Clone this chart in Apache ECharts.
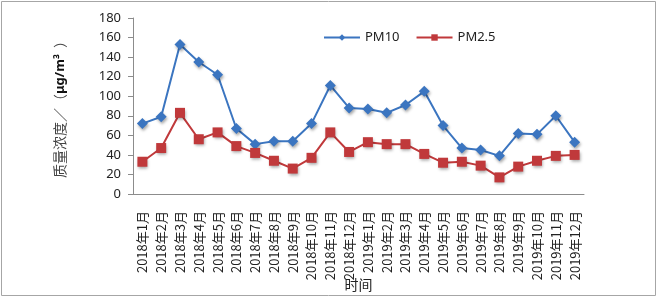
<!DOCTYPE html>
<html>
<head>
<meta charset="utf-8">
<script src="https://cdn.jsdelivr.net/npm/echarts@6/dist/echarts.min.js"></script>
<style>
  html, body { margin: 0; padding: 0; background: #fff; }
  #chart { width: 661px; height: 298px; }
</style>
</head>
<body>
<div id="chart"></div>
<script>
// months 2018-01 .. 2019-12
var months = [
  '2018年1月', '2018年2月', '2018年3月', '2018年4月', '2018年5月', '2018年6月',
  '2018年7月', '2018年8月', '2018年9月', '2018年10月', '2018年11月', '2018年12月',
  '2019年1月', '2019年2月', '2019年3月', '2019年4月', '2019年5月', '2019年6月',
  '2019年7月', '2019年8月', '2019年9月', '2019年10月', '2019年11月', '2019年12月'
]
var pm10 = [72, 79, 153, 135, 122, 67, 51, 54, 54, 72, 111, 88, 87, 83, 91, 105, 70, 47, 45, 39, 62, 61, 80, 53]
var pm25 = [33, 47, 83, 56, 63, 49, 42, 34, 26, 37, 63, 43, 53, 51, 51, 41, 32, 33, 29, 17, 28, 34, 39, 40]

var blue = '#3B75C0'
var red = '#C0393B'
var axisGray = '#8c8c8c'

var chart = echarts.init(document.getElementById('chart'))
chart.setOption({
  animation: false,
  graphic: [{
    type: 'rect',
    shape: { x: 1.5, y: 1.5, width: 654, height: 294 },
    style: { fill: 'none', stroke: '#a6a6a6', lineWidth: 1 },
    silent: true
  }],
  legend: {
    left: 318,
    top: 26,
    itemWidth: 36,
    itemHeight: 8,
    itemGap: 16,
    textStyle: { fontSize: 13, color: '#222', fontFamily: 'Noto Sans' },
    data: ['PM10', 'PM2.5']
  },
  grid: {
    left: 133,
    right: 77,
    top: 18,
    bottom: 104,
    outerBoundsMode: 'none'
  },
  xAxis: {
    type: 'category',
    data: months,
    name: '时间',
    nameLocation: 'middle',
    nameGap: 84,
    nameMoveOverlap: false,
    nameTextStyle: { fontSize: 14, color: '#222', fontFamily: 'Noto Sans CJK SC' },
    axisLine: { lineStyle: { color: axisGray } },
    axisTick: { length: 5, lineStyle: { color: axisGray } },
    axisLabel: {
      rotate: 90,
      interval: 0,
      margin: 17,
      fontSize: 13,
      color: '#222',
      fontFamily: 'Noto Sans CJK SC'
    },
    splitLine: { show: false }
  },
  yAxis: {
    type: 'value',
    min: 0,
    max: 180,
    interval: 20,
    name: '质量浓度／（{b|μg/m³}  ）',
    nameLocation: 'middle',
    nameRotate: 90,
    nameGap: 66,
    nameTextStyle: {
      fontSize: 14,
      color: '#444',
      fontFamily: 'Noto Sans CJK SC',
      rich: {
        b: { fontSize: 13, fontWeight: 'bold', color: '#111', fontFamily: 'Noto Sans' }
      }
    },
    axisLine: { show: true, lineStyle: { color: axisGray } },
    axisTick: { show: true, length: 5, lineStyle: { color: axisGray } },
    axisLabel: { fontSize: 13, color: '#222', margin: 12, fontFamily: 'Noto Sans' },
    splitLine: { show: false }
  },
  series: [
    {
      name: 'PM10',
      type: 'line',
      data: pm10,
      symbol: 'diamond',
      symbolSize: 11,
      lineStyle: { color: blue, width: 2 },
      itemStyle: {
        color: blue,
        shadowBlur: 3,
        shadowColor: 'rgba(0,0,0,0.35)',
        shadowOffsetX: 1,
        shadowOffsetY: 2
      }
    },
    {
      name: 'PM2.5',
      type: 'line',
      data: pm25,
      symbol: 'rect',
      symbolSize: 10,
      lineStyle: { color: red, width: 2 },
      itemStyle: {
        color: red,
        shadowBlur: 3,
        shadowColor: 'rgba(0,0,0,0.35)',
        shadowOffsetX: 1,
        shadowOffsetY: 2
      }
    }
  ]
})
</script>
</body>
</html>
